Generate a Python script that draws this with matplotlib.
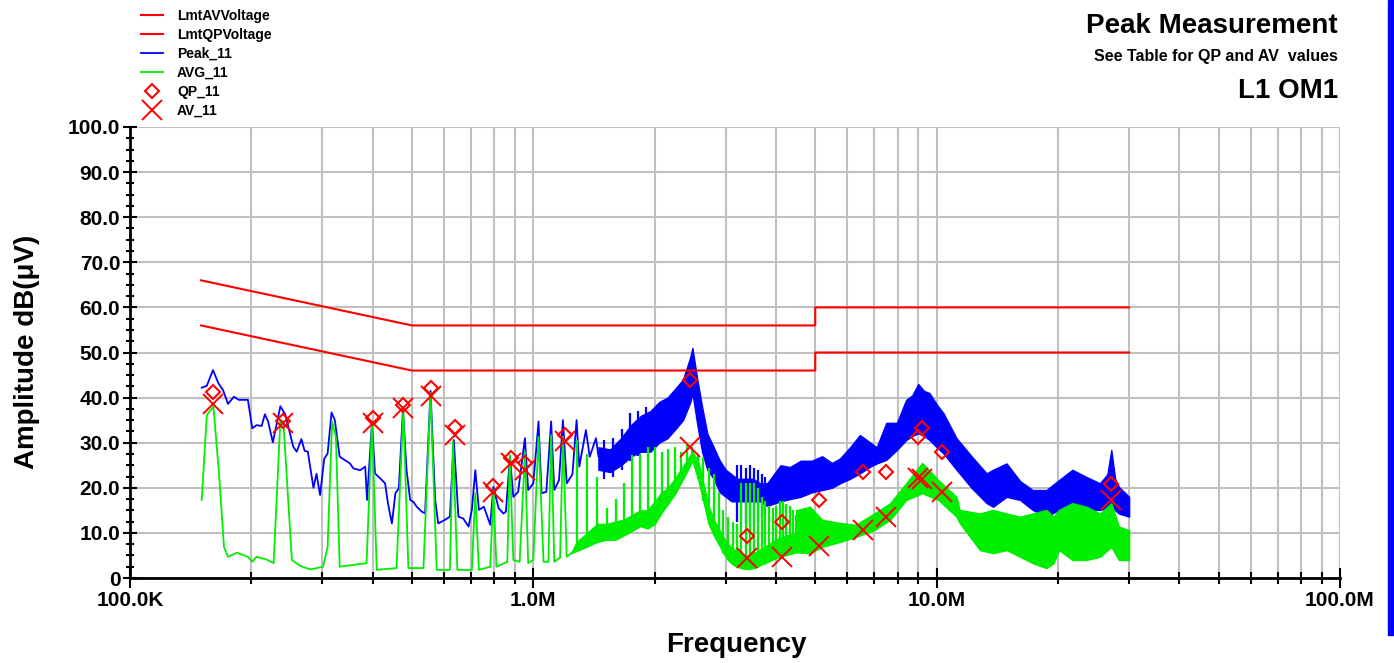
import numpy as np
import matplotlib
matplotlib.use('Agg')
import matplotlib.pyplot as plt
from matplotlib.ticker import FixedLocator, FuncFormatter, LogLocator, NullFormatter
from matplotlib.patches import Rectangle

plt.rcParams['font.family'] = ['Liberation Sans', 'DejaVu Sans']
plt.rcParams['font.weight'] = 'bold'

# limit lines (MHz, dBuV)
lmt_qp_f = [0.15, 0.5, 5.0, 5.0, 30.0]
lmt_qp_v = [66.0, 56.0, 56.0, 60.0, 60.0]
lmt_av_f = [0.15, 0.5, 5.0, 5.0, 30.0]
lmt_av_v = [56.0, 46.0, 46.0, 50.0, 50.0]

# peak trace, sparse part (MHz, dBuV)
peak_f = [0.1506, 0.155, 0.1606, 0.1656, 0.170, 0.175, 0.181, 0.186, 0.196, 0.201,
          0.206, 0.212, 0.216, 0.220, 0.226, 0.236, 0.243, 0.249, 0.254, 0.259,
          0.266, 0.271, 0.276, 0.285, 0.290, 0.296, 0.303, 0.309, 0.316, 0.322,
          0.331, 0.351, 0.358, 0.372, 0.383, 0.387, 0.398, 0.405, 0.417, 0.429,
          0.436, 0.446, 0.455, 0.464, 0.475, 0.485, 0.495, 0.504, 0.514, 0.529,
          0.539, 0.556, 0.571, 0.581, 0.604, 0.621, 0.635, 0.652, 0.670, 0.691,
          0.704, 0.718, 0.733, 0.754, 0.782, 0.796, 0.820, 0.843, 0.855, 0.875,
          0.892, 0.917, 0.953, 0.971, 1.000, 1.030, 1.048, 1.077, 1.107, 1.127,
          1.158, 1.184, 1.210, 1.25, 1.28, 1.30, 1.35, 1.38, 1.43, 1.45]
peak_v = [42.2, 42.6, 46.1, 43.2, 41.7, 38.6, 40.2, 39.5, 39.5, 33.2,
          33.9, 33.7, 36.3, 34.7, 30.1, 38.1, 36.1, 32.2, 29.1, 28.0,
          30.8, 28.2, 28.0, 20.0, 23.1, 18.4, 26.4, 27.6, 36.7, 35.0,
          26.9, 25.4, 24.3, 23.9, 24.7, 17.3, 34.3, 23.2, 22.1, 21.0,
          16.6, 12.1, 18.8, 19.9, 37.3, 23.9, 17.3, 16.9, 15.8, 14.7,
          14.3, 41.5, 17.3, 12.1, 12.9, 13.6, 30.6, 13.6, 13.2, 11.4,
          15.1, 23.9, 15.1, 15.8, 11.8, 20.2, 15.5, 14.3, 14.7, 26.9,
          18.0, 19.1, 31.0, 19.5, 21.0, 34.7, 18.8, 19.1, 34.7, 19.5,
          21.7, 35.0, 21.0, 23.0, 35.0, 24.7, 32.8, 26.9, 31.0, 27.0]

# peak trace, dense part as envelope (MHz, low, high)
peak_band_f = [1.45, 1.55, 1.65, 1.75, 1.85,
               1.95, 2.05, 2.15, 2.25, 2.35, 2.45, 2.48, 2.55, 2.62, 2.70,
               2.80, 2.90, 3.0, 3.1, 3.2, 3.35, 3.5, 3.65, 3.8, 3.95,
               4.1, 4.33, 4.6, 4.9, 5.2, 5.5, 5.76, 6.1, 6.45, 6.85, 7.1,
               7.5, 7.97, 8.4, 8.7, 9.0, 9.3, 9.6, 10.0, 10.4, 11.2, 12.2, 13.3, 13.8,
               14.9, 16.1, 17.3, 18.7, 20.1, 21.7, 23.5, 25.4, 26.5, 27.1,
               27.7, 28.3, 30.0]
peak_band_lo = [24, 23.5, 25, 27, 28,
                28, 30, 31, 33, 35, 39, 41, 34, 28, 24,
                22, 19, 18, 17, 17, 17, 17, 17, 16, 16.5,
                17, 17.5, 18, 19, 19.5, 20, 21, 22, 23.2, 24.7, 25.4,
                26.2, 28.4, 30.6, 31.5, 32.1, 31.5, 30.6, 29, 27.6, 24, 20, 16.6, 15.8,
                18, 17.3, 15.1, 13.6, 15.1, 15.1, 15.1, 15.1, 15.5, 16.6,
                15, 14.3, 13.6]
peak_band_hi = [29, 28.5, 31, 34, 36,
                37, 39, 40, 42, 44, 49, 51, 44, 38, 32,
                29, 26, 24, 23, 22, 22, 22, 21, 21, 23,
                25, 24.6, 26, 26, 27, 25.5, 26.5, 29, 31.7, 30, 29,
                34.4, 34.4, 39.5, 40.5, 43, 41.5, 41, 38.5, 36.5, 31, 27, 23.2, 24,
                25.4, 21.5, 19.5, 19.5, 21.7, 24, 22.4, 21, 23, 28.4,
                22, 20.2, 18]

# peak spikes sticking out of the band (MHz, low, high)
peak_spk_f = [1.50, 1.58, 1.66, 1.74, 1.82, 1.90,
              3.20, 3.28, 3.36, 3.44, 3.52, 3.60, 3.68, 3.76]
peak_spk_lo = [22.0, 22.5, 24.0, 26.0, 27.0, 28.0,
               12.5, 12.0, 12.0, 12.5, 12.0, 12.5, 13.0, 14.0]
peak_spk_hi = [30.5, 31.0, 33.0, 36.5, 37.0, 38.0,
               25.0, 25.0, 24.5, 25.0, 24.5, 24.0, 23.0, 22.5]

# average trace, sparse part (MHz, dBuV)
avg_f = [0.1506, 0.155, 0.161, 0.166, 0.171, 0.175, 0.184, 0.196, 0.201, 0.206,
         0.218, 0.227, 0.236, 0.240, 0.252, 0.264, 0.280, 0.301, 0.309, 0.317,
         0.324, 0.331, 0.358, 0.386, 0.398, 0.409, 0.458, 0.476, 0.490, 0.534,
         0.556, 0.576, 0.621, 0.632, 0.648, 0.704, 0.718, 0.733, 0.782, 0.796,
         0.810, 0.862, 0.874, 0.892, 0.925, 0.953, 0.971, 1.000, 1.030, 1.060,
         1.090, 1.107, 1.127, 1.165, 1.184, 1.210, 1.24]
avg_v = [17.3, 36.1, 38.0, 23.9, 6.9, 4.7, 5.6, 4.7, 3.6, 4.7,
         4.1, 3.3, 35.0, 34.7, 4.0, 2.7, 1.9, 2.5, 6.9, 34.7,
         31.3, 2.5, 2.9, 3.3, 34.3, 1.8, 2.2, 37.3, 2.2, 2.2,
         41.0, 1.8, 1.8, 30.2, 1.8, 1.8, 18.8, 1.8, 2.5, 19.5,
         2.5, 3.6, 27.3, 4.0, 3.6, 28.0, 3.3, 4.0, 31.3, 3.6,
         3.6, 31.7, 3.6, 4.5, 31.3, 4.7, 5.5]

# average trace, harmonic spikes 1.28 - 4.48 MHz (floor, noise top, spike top)
avg_harm_f = [1.28, 1.36, 1.44, 1.52, 1.60, 1.68, 1.76, 1.84, 1.92, 2.00,
              2.08, 2.16, 2.24, 2.32, 2.40, 2.48, 2.56, 2.64, 2.72, 2.80,
              2.88, 2.96, 3.04, 3.12, 3.20, 3.28, 3.36, 3.44, 3.52, 3.60,
              3.68, 3.76, 3.84, 3.92, 4.00, 4.08, 4.16, 4.24, 4.32, 4.40,
              4.48]
avg_harm_base = [6.0, 7.0, 8.0, 8.5, 8.5, 9.5, 10.5, 11.5, 11.0, 12.0,
                 14.5, 16.5, 18.5, 21.0, 23.5, 26.0, 22.0, 17.0, 12.0, 9.5,
                 7.5, 5.5, 4.0, 3.0, 2.5, 2.2, 2.0, 2.0, 2.2, 2.5,
                 3.0, 3.3, 3.7, 4.1, 4.4, 4.7, 4.9, 5.1, 5.3, 5.5,
                 5.7]
avg_harm_noise = [8.0, 10.0, 12.0, 12.0, 12.5, 13.0, 14.0, 15.0, 15.0, 17.0,
                  19.0, 20.0, 22.0, 24.0, 26.0, 28.0, 26.0, 21.0, 16.0, 13.0,
                  11.0, 9.0, 7.5, 6.5, 6.0, 5.5, 5.0, 5.0, 5.5, 6.0,
                  6.5, 7.0, 7.5, 8.0, 8.5, 9.0, 9.0, 9.5, 9.5, 10.0,
                  10.0]
avg_harm_top = [30.6, 27.6, 22.5, 15.5, 17.5, 21.0, 27.3, 27.6, 29.0, 29.0,
                28.0, 28.5, 29.0, 28.0, 29.5, 29.0, 27.5, 26.8, 24.5, 23.0,
                19.0, 15.0, 13.5, 12.5, 12.0, 21.0, 21.0, 21.0, 21.0, 20.0,
                18.0, 17.0, 16.0, 15.5, 16.0, 17.0, 17.0, 16.5, 16.0, 15.0,
                14.0]

# average trace, dense part as envelope (MHz, low, high)
avg_band_f = [4.48, 4.85, 5.2, 5.76, 6.3, 7.0, 7.67, 8.4, 9.2, 10.1,
              11.2, 11.4, 12.8, 13.8, 14.9, 16.1, 17.3, 18.7, 19.5, 20.1,
              21.7, 23.5, 25.4, 27.1, 28.3, 30.0]
avg_band_lo = [5.7, 5.5, 6.9, 8.0, 9.1, 10.6, 12.9, 17.3, 18.8, 17.3,
               13.6, 12.2, 6.2, 5.5, 6.2, 4.7, 3.3, 2.2, 3.3, 6.2,
               4.0, 4.0, 4.7, 6.9, 4.0, 4.0]
avg_band_hi = [15.0, 15.8, 12.9, 12.2, 11.8, 14.3, 16.6, 21.0, 25.5, 21.7,
               18.0, 15.1, 14.3, 15.1, 14.3, 13.6, 14.3, 15.1, 13.6, 15.1,
               16.6, 15.8, 14.3, 16.6, 11.4, 10.6]

# final measurements (MHz, dBuV)
qp_f = [0.1606, 0.240, 0.400, 0.476, 0.556, 0.640, 0.795, 0.880, 0.955, 1.20,
        2.45, 3.39, 4.14, 5.11, 6.57, 7.49, 9.0, 9.2, 10.3, 27.1]
qp_v = [41.2, 34.8, 35.5, 38.4, 42.1, 33.5, 20.4, 26.6, 25.5, 31.7,
        43.9, 9.3, 12.4, 17.3, 23.5, 23.5, 31.3, 33.3, 27.9, 20.8]
av_f = [0.1606, 0.240, 0.400, 0.476, 0.556, 0.640, 0.795, 0.880, 0.955, 1.20,
        2.44, 3.39, 4.14, 5.11, 6.57, 7.49, 9.0, 9.2, 10.3, 27.1]
av_v = [38.6, 34.4, 34.4, 37.7, 40.4, 31.7, 19.1, 25.5, 23.9, 30.4,
        29.0, 4.4, 4.7, 7.1, 10.6, 13.5, 22.2, 22.0, 19.1, 17.3]

x_ticks = [1e5, 1e6, 1e7, 1e8]
x_ticklabels = ['100.0K', '1.0M', '10.0M', '100.0M']

RED = '#ff0000'
BLUE = '#0000ff'
GREEN = '#00ee00'

fig = plt.figure(figsize=(13.94, 6.63), dpi=100)
W, H = 1394.0, 663.0
ax = fig.add_axes([130 / W, 1 - 578 / H, 1210 / W, 451 / H])

mhz = lambda a: np.asarray(a) * 1e6

h_av_lmt, = ax.plot(mhz(lmt_av_f), lmt_av_v, color=RED, lw=1.5, label='LmtAVVoltage')
h_qp_lmt, = ax.plot(mhz(lmt_qp_f), lmt_qp_v, color=RED, lw=1.5, label='LmtQPVoltage')

# peak
h_peak, = ax.plot(mhz(peak_f), peak_v, color=BLUE, lw=1.3, label='Peak_11')
ax.fill_between(mhz(peak_band_f), peak_band_lo, peak_band_hi, color=BLUE, lw=1.0)
ax.vlines(mhz(peak_spk_f), peak_spk_lo, peak_spk_hi, color=BLUE, lw=1.6)

# average
h_avg, = ax.plot(mhz(avg_f), avg_v, color=GREEN, lw=1.3, label='AVG_11')
ax.fill_between(mhz([avg_f[-1]] + avg_harm_f), [avg_v[-1]] + avg_harm_base,
                [avg_v[-1]] + avg_harm_noise, color=GREEN, lw=1.0)
ax.vlines(mhz(avg_harm_f), avg_harm_base, avg_harm_top, color=GREEN, lw=1.6)
ax.fill_between(mhz(avg_band_f), avg_band_lo, avg_band_hi, color=GREEN, lw=1.0)

# measurements
h_qp, = ax.plot(mhz(qp_f), qp_v, ls='none', marker='D', ms=7, mfc='none', mec=RED,
                mew=1.5, label='QP_11')
h_av, = ax.plot(mhz(av_f), av_v, ls='none', marker='x', ms=14, mec=RED,
                mew=1.4, label='AV_11')

ax.set_xscale('log')
ax.set_xlim(1e5, 1e8)
ax.set_ylim(0, 100)

ax.xaxis.set_major_locator(FixedLocator(x_ticks))
ax.set_xticklabels(x_ticklabels)
ax.xaxis.set_minor_locator(LogLocator(base=10, subs=np.arange(2, 10)))
ax.xaxis.set_minor_formatter(NullFormatter())
ax.set_yticks(np.arange(0, 101, 10))
ax.yaxis.set_major_formatter(FuncFormatter(lambda v, p: '0' if v == 0 else '%.1f' % v))
ax.set_yticks(np.arange(0, 100.1, 2.5), minor=True)

ax.grid(which='major', axis='y', color='#c0c0c0', lw=1.5)
ax.grid(which='both', axis='x', color='#c0c0c0', lw=1.5)
ax.set_axisbelow(True)

for s in ['top', 'right']:
    ax.spines[s].set_visible(False)
for s in ['left', 'bottom']:
    ax.spines[s].set_linewidth(2)
    ax.spines[s].set_zorder(3)

ax.tick_params(axis='y', which='major', direction='inout', length=10, width=1.5,
               labelsize=15, pad=2)
ax.tick_params(axis='y', which='minor', direction='inout', length=6, width=1.5)
ax.tick_params(axis='x', which='major', direction='inout', length=15, width=1.5,
               labelsize=15, pad=2)
ax.tick_params(axis='x', which='minor', direction='inout', length=8, width=1.5)
for lab in ax.get_xticklabels() + ax.get_yticklabels():
    lab.set_fontweight('bold')

fig.text(27 / W, 1 - 352 / H, 'Amplitude dB(μV)', rotation=90, ha='center', va='center',
         fontsize=20, fontweight='bold')
fig.text(736 / W, 1 - 645 / H, 'Frequency', ha='center', va='center',
         fontsize=20, fontweight='bold')

fig.text(1338 / W, 1 - 33 / H, 'Peak Measurement', ha='right', va='baseline',
         fontsize=20, fontweight='bold')
fig.text(1338 / W, 1 - 61 / H, 'See Table for QP and AV  values', ha='right', va='baseline',
         fontsize=11.5, fontweight='bold')
fig.text(1338 / W, 1 - 98 / H, 'L1 OM1', ha='right', va='baseline',
         fontsize=20, fontweight='bold')

leg = fig.legend(handles=[h_av_lmt, h_qp_lmt, h_peak, h_avg, h_qp, h_av],
                 loc='upper left', bbox_to_anchor=(141 / W, 1 - 9 / H), frameon=False,
                 fontsize=10, handlelength=1.55, handletextpad=1.05, labelspacing=0.36,
                 borderpad=0, borderaxespad=0)
for t in leg.get_texts():
    t.set_fontweight('bold')

# blue strip at the right edge of the screenshot
fig.patches.append(Rectangle((1388 / W, 28 / H), 6 / W, 1 - 28 / H,
                             transform=fig.transFigure, color=BLUE, zorder=0))

fig.savefig('out.png', dpi=100)
